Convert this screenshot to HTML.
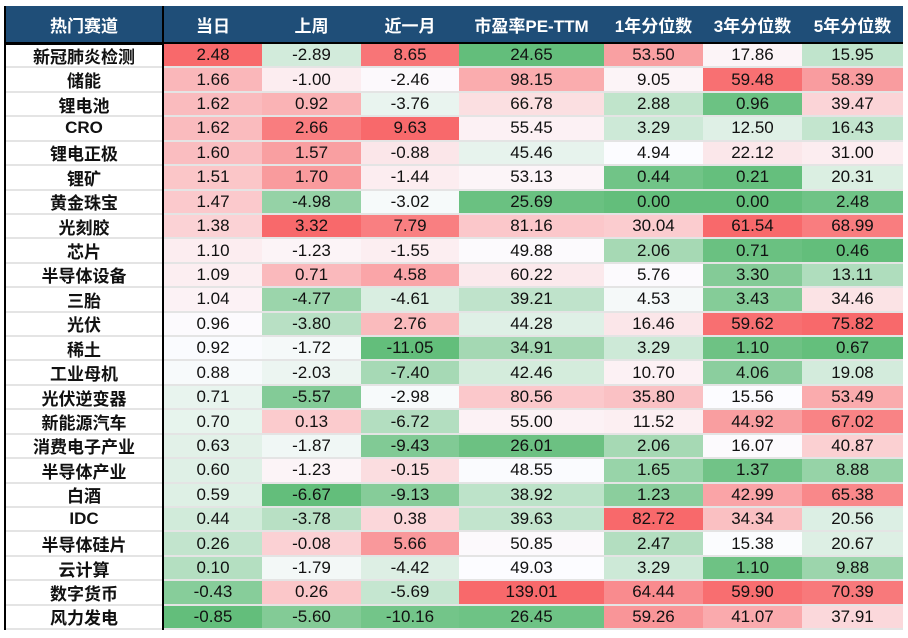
<!DOCTYPE html>
<html><head><meta charset="utf-8">
<style>
body{margin:0;background:#fff;width:908px;height:638px;overflow:hidden;font-family:"Liberation Sans","Noto Sans CJK SC",sans-serif;}
#wrap{position:absolute;left:4px;top:6px;}
.hdr{position:absolute;top:0;height:37px;background:#1f4e78;color:#fff;font-weight:bold;font-size:17px;display:flex;align-items:center;justify-content:center;}
.cell{position:absolute;display:flex;align-items:center;justify-content:center;font-size:17px;color:#111;box-sizing:border-box;border-bottom:2px solid #e4e4e4;}
.name{font-weight:bold;font-size:17px;}
</style></head><body>
<div id="wrap"></div>
<script>
const headers=["热门赛道","当日","上周","近一月","市盈率PE-TTM","1年分位数","3年分位数","5年分位数"];
const categories=["新冠肺炎检测","储能","锂电池","CRO","锂电正极","锂矿","黄金珠宝","光刻胶","芯片","半导体设备","三胎","光伏","稀土","工业母机","光伏逆变器","新能源汽车","消费电子产业","半导体产业","白酒","IDC","半导体硅片","云计算","数字货币","风力发电"];
const dayVals=[2.48,1.66,1.62,1.62,1.60,1.51,1.47,1.38,1.10,1.09,1.04,0.96,0.92,0.88,0.71,0.70,0.63,0.60,0.59,0.44,0.26,0.10,-0.43,-0.85];
const weekVals=[-2.89,-1.00,0.92,2.66,1.57,1.70,-4.98,3.32,-1.23,0.71,-4.77,-3.80,-1.72,-2.03,-5.57,0.13,-1.87,-1.23,-6.67,-3.78,-0.08,-1.79,0.26,-5.60];
const monthVals=[8.65,-2.46,-3.76,9.63,-0.88,-1.44,-3.02,7.79,-1.55,4.58,-4.61,2.76,-11.05,-7.40,-2.98,-6.72,-9.43,-0.15,-9.13,0.38,5.66,-4.42,-5.69,-10.16];
const peVals=[24.65,98.15,66.78,55.45,45.46,53.13,25.69,81.16,49.88,60.22,39.21,44.28,34.91,42.46,80.56,55.00,26.01,48.55,38.92,39.63,50.85,49.03,139.01,26.45];
const pct1Vals=[53.50,9.05,2.88,3.29,4.94,0.44,0.00,30.04,2.06,5.76,4.53,16.46,3.29,10.70,35.80,11.52,2.06,1.65,1.23,82.72,2.47,3.29,64.44,59.26];
const pct3Vals=[17.86,59.48,0.96,12.50,22.12,0.21,0.00,61.54,0.71,3.30,3.43,59.62,1.10,4.06,15.56,44.92,16.07,1.37,42.99,34.34,15.38,1.10,59.90,41.07];
const pct5Vals=[15.95,58.39,39.47,16.43,31.00,20.31,2.48,68.99,0.46,13.11,34.46,75.82,0.67,19.08,53.49,67.02,40.87,8.88,65.38,20.56,20.67,9.88,70.39,37.91];
const columns=[dayVals,weekVals,monthVals,peVals,pct1Vals,pct3Vals,pct5Vals];
const colX=[0,160,258,357,455,600,699,798,899];
const headTop=0, headH=37, rowTop=38, rowH=24.42;
const wrap=document.getElementById('wrap');
function mix(a,b,t){return a.map((v,i)=>Math.round(v+(b[i]-v)*t));}
const G=[99,190,123],W=[252,252,255],R=[248,105,107];
function colorScale(arr){
  const s=[...arr].sort((a,b)=>a-b);const n=s.length;
  const med=n%2?s[(n-1)/2]:(s[n/2-1]+s[n/2])/2;
  const mn=s[0],mx=s[n-1];
  return v=>{let c;if(v<=med){c=mix(G,W,med===mn?1:(v-mn)/(med-mn));}else{c=mix(W,R,(v-med)/(mx-med));}return `rgb(${c.join(',')})`;};
}
headers.forEach((h,i)=>{
  const d=document.createElement('div');
  d.className='hdr';
  
  
  d.style.left=colX[i]+'px';d.style.width=(colX[i+1]-colX[i])+'px';d.style.height=headH+'px';
  d.textContent=h;wrap.appendChild(d);
});
const line=document.createElement('div');


line.style.cssText=`position:absolute;left:0;top:${headH-1}px;width:899px;height:3px;background:#000`;
wrap.appendChild(line);
categories.forEach((c,r)=>{
  const y=rowTop+r*rowH;
  const n=document.createElement('div');
  n.className='cell name';
  
  
  n.style.left='2px';n.style.top=y+'px';n.style.width='156px';n.style.height=rowH+'px';
  n.textContent=c;wrap.appendChild(n);
});
columns.forEach((arr,ci)=>{
  const sc=colorScale(arr);
  arr.forEach((v,r)=>{
    const d=document.createElement('div');
    d.className='cell';
    
    
    d.style.left=colX[ci+1]+'px';d.style.width=(colX[ci+2]-colX[ci+1])+'px';
    d.style.top=(rowTop+r*rowH)+'px';d.style.height=rowH+'px';
    d.style.background=sc(v);d.textContent=v.toFixed(2);wrap.appendChild(d);
  });
});
const vl=document.createElement('div');


vl.style.cssText=`position:absolute;left:158px;top:0;width:2px;height:${rowTop+24*rowH}px;background:#000`;
wrap.appendChild(vl);
const ll=document.createElement('div');


ll.style.cssText=`position:absolute;left:0;top:0;width:2px;height:${rowTop+24*rowH}px;background:#000`;
wrap.appendChild(ll);
</script>
</body></html>
